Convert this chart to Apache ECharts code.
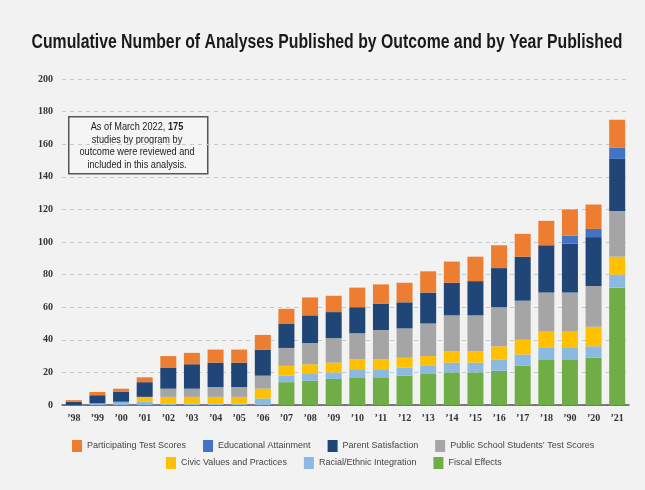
<!DOCTYPE html>
<html lang="en" style="height: 100%">
<head>
    <meta charset="utf-8">
    <title>Cumulative Number of Analyses</title>
    <script src="https://cdn.jsdelivr.net/npm/echarts@6/dist/echarts.min.js"></script>
</head>
<body style="height: 100%; margin: 0; background: #f2f2f2">
    <div id="main" style="width: 645px; height: 490px"></div>
    <script type="text/javascript">
        // year labels (the source labels 2019 as '90)
        var years = ['\u201998', '\u201999', '\u201900', '\u201901', '\u201902', '\u201903', '\u201904', '\u201905',
                     '\u201906', '\u201907', '\u201908', '\u201909', '\u201910', '\u201911', '\u201912', '\u201913',
                     '\u201914', '\u201915', '\u201916', '\u201917', '\u201918', '\u201990', '\u201920', '\u201921'];

        // stacked from the bottom up
        var fiscal      = [0, 0, 0, 0, 0, 0, 0, 0, 0, 14, 15, 16, 17, 17, 18, 19, 20, 20, 21, 24, 28, 28, 29, 72];
        var racial      = [0, 1, 2, 2, 1, 1, 1, 1, 4, 4, 4, 4, 5, 5, 5, 5, 6, 6, 7, 7, 7, 7, 7, 8];
        var civic       = [0, 0, 0, 3, 4, 4, 4, 4, 6, 6, 6, 6, 6, 6, 6, 6, 7, 7, 8, 9, 10, 10, 12, 11];
        var publicTest  = [0, 0, 0, 0, 5, 5, 6, 6, 8, 11, 13, 15, 16, 18, 18, 20, 22, 22, 24, 24, 24, 24, 25, 28];
        var parent      = [2, 5, 6, 9, 13, 15, 15, 15, 16, 15, 17, 16, 16, 16, 16, 19, 20, 21, 24, 27, 29, 30, 30, 32];
        var attainment  = [0, 0, 0, 0, 0, 0, 0, 0, 0, 0, 0, 0, 0, 0, 0, 0, 0, 0, 0, 0, 0, 5, 5, 7];
        var participant = [1, 2, 2, 3, 7, 7, 8, 8, 9, 9, 11, 10, 12, 12, 12, 13, 13, 15, 14, 14, 15, 16, 15, 17];

        var yTicks = { min: 0, max: 200, step: 20 };

        var sans  = "'Liberation Sans', Arial, sans-serif";
        var serif = "'Liberation Serif', 'DejaVu Serif', serif";

        var myChart = echarts.init(document.getElementById('main'));

        function bar(name, data, color) {
            return {
                name: name,
                type: 'bar',
                stack: 'total',
                barWidth: 16,
                data: data,
                itemStyle: { color: color }
            };
        }

        var legendStyle = {
            icon: 'rect', itemWidth: 10, itemHeight: 12, itemGap: 17,
            textStyle: { fontFamily: sans, fontSize: 9, color: '#444' }
        };

        var option = {
            backgroundColor: '#f2f2f2',
            animation: false,
            legend: [
                Object.assign({ top: 435, left: 67, data: ['Participating Test Scores', 'Educational Attainment',
                    'Parent Satisfaction', 'Public School Students\u2019 Test Scores'] }, legendStyle),
                Object.assign({ top: 452, left: 161, data: ['Civic Values and Practices', 'Racial/Ethnic Integration',
                    'Fiscal Effects'] }, legendStyle)
            ],
            grid: { left: 62, right: 16, top: 79, bottom: 85 },
            xAxis: {
                type: 'category',
                data: years,
                axisTick: { show: false },
                axisLine: { lineStyle: { color: '#555', width: 1.5 } },
                axisLabel: { fontFamily: serif, fontWeight: 'bold', fontSize: 10, color: '#333', margin: 8 }
            },
            yAxis: {
                type: 'value',
                min: yTicks.min, max: yTicks.max, interval: yTicks.step,
                axisLine: { show: false },
                axisTick: { show: false },
                axisLabel: { fontFamily: serif, fontWeight: 'bold', fontSize: 10, color: '#333', margin: 9 },
                splitLine: { lineStyle: { type: [4, 4], color: '#c8c8c8' } }
            },
            series: [
                bar('Fiscal Effects', fiscal, '#70ad47'),
                bar('Racial/Ethnic Integration', racial, '#8bb9e2'),
                bar('Civic Values and Practices', civic, '#ffc000'),
                bar('Public School Students\u2019 Test Scores', publicTest, '#a5a5a5'),
                bar('Parent Satisfaction', parent, '#1f4677'),
                bar('Educational Attainment', attainment, '#4472c4'),
                bar('Participating Test Scores', participant, '#ed7d31')
            ],
            graphic: [
                {
                    // condensed look for the title: squeeze the text horizontally
                    type: 'text',
                    x: 327, y: 42,
                    scaleX: 0.79,
                    style: {
                        text: 'Cumulative Number of Analyses Published by Outcome and by Year Published',
                        align: 'center', verticalAlign: 'middle',
                        fontFamily: sans, fontSize: 20, fontWeight: 'bold', fill: '#1a1a1a'
                    }
                },
                {
                    type: 'rect',
                    left: 68, top: 116,
                    shape: { width: 139, height: 57 },
                    style: { fill: '#f5f5f5', stroke: '#555', lineWidth: 1.5 }
                },
                {
                    type: 'text',
                    x: 137, y: 121,
                    scaleX: 0.92,
                    style: {
                        text: 'As of March 2022, {b|175}\nstudies by program by\noutcome were reviewed and\nincluded in this analysis.',
                        align: 'center',
                        fontFamily: sans, fontSize: 10, lineHeight: 12.5, fill: '#222',
                        rich: { b: { fontFamily: sans, fontSize: 10, fontWeight: 'bold', fill: '#222' } }
                    }
                }
            ]
        };
        myChart.setOption(option);

        window.onresize = function () {
            myChart.resize();
        };
    </script>
</body>
</html>
